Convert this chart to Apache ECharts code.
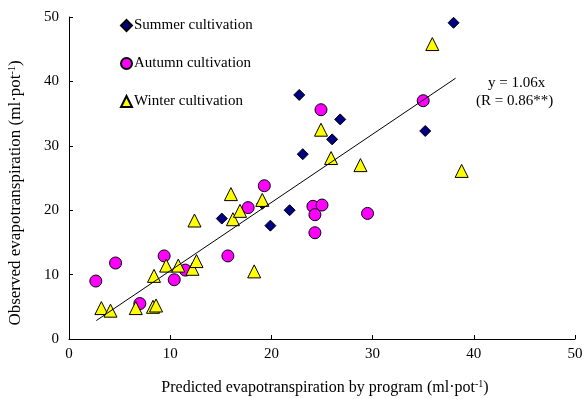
<!DOCTYPE html>
<html><head><meta charset="utf-8">
<script src="https://cdn.jsdelivr.net/npm/echarts@6/dist/echarts.min.js"></script>
<style>html,body{margin:0;padding:0;background:#fff}#c{width:588px;height:399px}</style>
</head><body><div id="c"></div>
<script>
const summer = [[15.1,18.7],[19.1,21.0],[19.9,17.6],[21.8,20.0],[23.1,28.7],[22.75,37.9],[26.0,31.0],[26.8,34.1],[35.2,32.3],[38.0,49.1]];
const autumn = [[2.65,9.0],[4.6,11.8],[7.0,5.5],[9.4,12.9],[10.4,9.2],[11.5,10.7],[15.7,12.9],[17.7,20.4],[19.3,23.8],[24.1,20.6],[25.0,20.8],[24.3,19.3],[24.3,16.5],[24.9,35.6],[29.5,19.5],[35.0,37.0]];
const winter = [[3.2,4.8],[4.1,4.4],[6.6,4.8],[8.3,5.0],[8.6,5.2],[8.4,9.8],[9.6,11.4],[10.8,11.4],[12.2,10.9],[12.6,12.1],[12.4,18.4],[16.0,22.5],[16.2,18.6],[16.9,19.9],[18.3,10.5],[19.1,21.6],[24.9,32.5],[25.9,28.1],[28.8,27.0],[35.9,45.8],[38.8,26.1]];
const slope = 1.06;
const fitX = [2.7, 38.2];
const fitLine = fitX.map(x => [x, +(slope * x).toFixed(3)]);
const seriesNames = ['Summer cultivation', 'Autumn cultivation', 'Winter cultivation'];

const font = 'Liberation Serif';
const chart = echarts.init(document.getElementById('c'), null, {renderer: 'canvas'});
const mk = (name, data, symbol, color, size) => ({
  name, type: 'scatter', data, symbol, symbolSize: size,
  itemStyle: {color, borderColor: '#000', borderWidth: 1, opacity: 1},
  z: 2
});
const supRich = {sup: {fontSize: 10, fontFamily: font, color: '#000', verticalAlign: 'top', padding: [0,0,8,0]}};
chart.setOption({
  animation: false,
  textStyle: {fontFamily: font},
  grid: {left: 69, right: 13, top: 17, bottom: 60, containLabel: false, outerBoundsMode: 'none'},
  legend: {
    orient: 'vertical', left: 115, top: 13, itemGap: 23, itemWidth: 11, itemHeight: 11,
    data: [
      {name: seriesNames[0], icon: 'diamond'},
      {name: seriesNames[1], icon: 'circle'},
      {name: seriesNames[2], icon: 'triangle'}
    ],
    textStyle: {fontFamily: font, fontSize: 15, color: '#000', padding: [0,0,0,-3]}
  },
  xAxis: {
    type: 'value', min: 0, max: 50, interval: 10,
    axisLine: {lineStyle: {color: '#000', width: 1}},
    axisTick: {inside: true, length: 4, lineStyle: {color: '#000'}},
    splitLine: {show: false},
    axisLabel: {color: '#000', fontSize: 15, fontFamily: font, margin: 8},
    name: 'Predicted evapotranspiration by program (ml·pot{sup|-1})',
    nameLocation: 'middle', nameGap: 40,
    nameTextStyle: {color: '#000', fontSize: 16, fontFamily: font, padding: [0,0,0,6], rich: supRich}
  },
  yAxis: {
    type: 'value', min: 0, max: 50, interval: 10,
    axisLine: {show: true, lineStyle: {color: '#000', width: 1}},
    axisTick: {show: true, inside: true, length: 4, lineStyle: {color: '#000'}},
    splitLine: {show: false},
    axisLabel: {color: '#000', fontSize: 15, fontFamily: font, margin: 10},
    name: 'Observed evapotranspiration (ml·pot{sup|-1})',
    nameLocation: 'middle', nameGap: 44, nameRotate: 90,
    nameTextStyle: {color: '#000', fontSize: 17, fontFamily: font, padding: [0,30,0,0], rich: supRich}
  },
  series: [
    mk(seriesNames[0], summer, 'diamond', '#000080', 11),
    mk(seriesNames[1], autumn, 'circle', '#FF00FF', 12),
    mk(seriesNames[2], winter, 'triangle', '#FFFF00', 13),
    {type: 'line', data: fitLine, showSymbol: false, symbol: 'none', silent: true,
     lineStyle: {color: '#000', width: 1}, z: 5}
  ],
  graphic: [
    {type: 'text', left: 488, top: 76, style: {text: 'y = 1.06x', font: '15px "Liberation Serif"', fill: '#000'}},
    {type: 'text', left: 476, top: 94, style: {text: '(R = 0.86**)', font: '15px "Liberation Serif"', fill: '#000'}}
  ]
});
</script></body></html>
